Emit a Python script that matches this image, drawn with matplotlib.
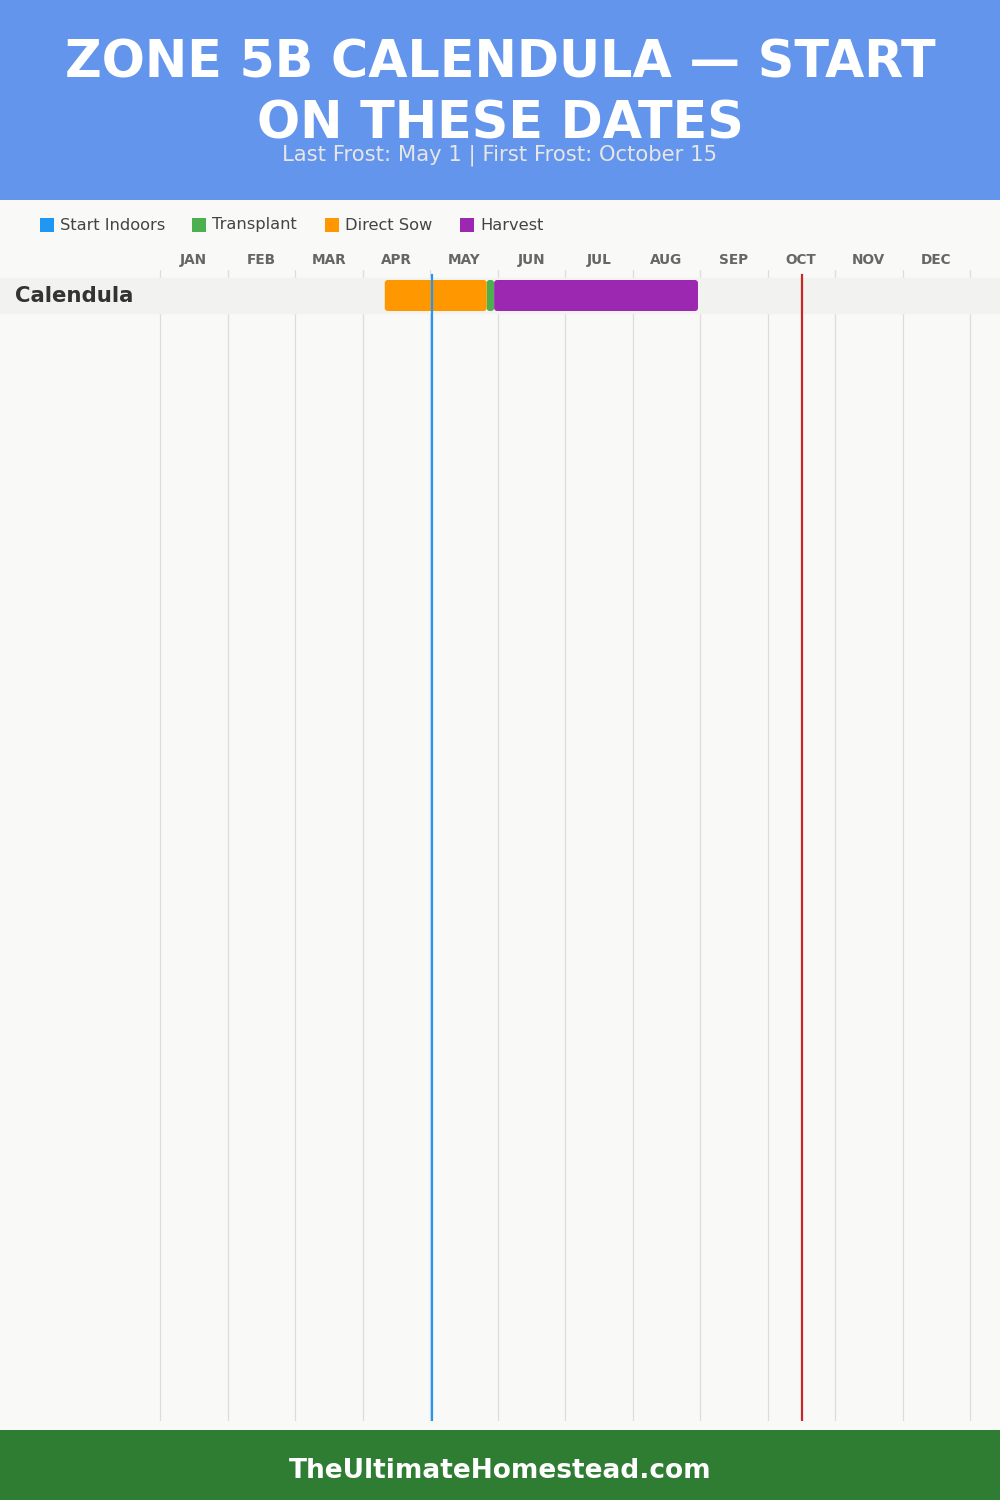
import matplotlib.pyplot as plt
from matplotlib.patches import Rectangle, FancyBboxPatch

# ---- data (x in months: 0 = Jan 1, 12 = end of Dec) ----
months = ["JAN", "FEB", "MAR", "APR", "MAY", "JUN",
          "JUL", "AUG", "SEP", "OCT", "NOV", "DEC"]
crops = ["Calendula"]
stage_names = ["Start Indoors", "Transplant", "Direct Sow", "Harvest"]
stage_colors = ["#2196F3", "#4CAF50", "#FF9800", "#9C27B0"]

start_indoors = [None]
direct_sow = [(3.33, 4.84)]
transplant = [(4.84, 4.95)]
harvest = [(4.95, 7.97)]

last_frost = 4.03
first_frost = 9.51

title = "ZONE 5B CALENDULA \u2014 START\nON THESE DATES"
subtitle = "Last Frost: May 1 | First Frost: October 15"
footer = "TheUltimateHomestead.com"

# ---- layout helpers (pixel positions on a 1000x1500 canvas) ----
W, H = 1000, 1500
def fx(px):
    return px / W
def fy(px):
    return 1 - px / H

fig = plt.figure(figsize=(10, 15), dpi=100)
fig.patch.set_facecolor("#f9f9f8")

# header / footer bands
fig.patches.append(Rectangle((0, fy(200)), 1, 200 / H, transform=fig.transFigure,
                             facecolor="#6495ED", edgecolor="none", zorder=0))
fig.patches.append(Rectangle((0, 0), 1, 70 / H, transform=fig.transFigure,
                             facecolor="#2E7D32", edgecolor="none", zorder=0))

fig.text(0.5, fy(94), title, ha="center", va="center", color="white",
         fontsize=36.5, fontweight="heavy", family="DejaVu Sans", linespacing=1.3)
fig.text(0.5, fy(155), subtitle, ha="center", va="center", color="#e6e6e6",
         fontsize=15.2, family="DejaVu Sans")
fig.text(0.5, fy(1471), footer, ha="center", va="center", color="white",
         fontsize=19, fontweight="bold", family="DejaVu Sans")

# legend
leg_x = [40, 192, 325, 460]
for x0, name, col in zip(leg_x, stage_names, stage_colors):
    fig.patches.append(Rectangle((fx(x0), fy(232)), 14 / W, 14 / H,
                                 transform=fig.transFigure, facecolor=col,
                                 edgecolor="none"))
    fig.text(fx(x0 + 20), fy(225), name, ha="left", va="center",
             color="#444444", fontsize=11.7, family="DejaVu Sans")

# ---- chart axes ----
px_month = 67.5
row_px = 35
row_center = 295.5
top, bottom = 270, 1421
ax = fig.add_axes([0, fy(bottom), 1, (bottom - top) / H])
ax.set_xlim(-160 / px_month, (W - 160) / px_month)
ax.set_ylim((bottom - row_center) / row_px, -(row_center - top) / row_px)
ax.axis("off")

for m in range(13):
    ax.axvline(m, color="#dddddd", lw=0.9, zorder=0.5)

for i, name in enumerate(months):
    ax.text(i + 0.5, (264 - row_center) / row_px, name, ha="center", va="baseline",
            color="#666666", fontsize=9.8, fontweight="bold", clip_on=False)

bar_h = 31 / row_px
for r, crop in enumerate(crops):
    ax.axhspan(r - 0.5, r + 0.5, color="#f2f2f1", zorder=1)
    ax.text((15 - 160) / px_month, r, crop, ha="left", va="center",
            color="#333333", fontsize=15.3, fontweight="bold")
    spans = [(start_indoors[r], stage_colors[0]), (transplant[r], stage_colors[1]),
             (direct_sow[r], stage_colors[2]), (harvest[r], stage_colors[3])]
    for span, col in spans:
        if span is None:
            continue
        x0, x1 = span
        box = FancyBboxPatch((x0, r - bar_h / 2), x1 - x0, bar_h,
                             boxstyle="round,pad=0,rounding_size=0.045",
                             mutation_aspect=1.9, facecolor=col,
                             edgecolor="none", zorder=2)
        ax.add_patch(box)

frost_top = (bottom - 275) / (bottom - top)
ax.axvline(last_frost, ymin=0, ymax=frost_top, color="#2196F3", lw=1.6, zorder=3)
ax.axvline(first_frost, ymin=0, ymax=frost_top, color="#C62828", lw=1.6, zorder=3)

fig.savefig("out.png", dpi=100, facecolor=fig.get_facecolor())
